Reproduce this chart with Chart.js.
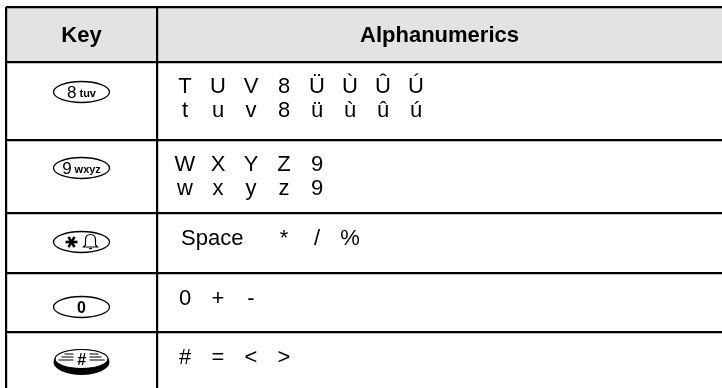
<!DOCTYPE html>
<html>
<head>
<meta charset="utf-8">
<script src="https://cdn.jsdelivr.net/npm/chart.js@4/dist/chart.umd.min.js"></script>
<style>
  html, body { margin: 0; padding: 0; background: #fff; }
  canvas { display: block; }
</style>
</head>
<body>
<canvas id="tbl" width="722" height="388"></canvas>
<script>
  /* ─── Table content ─── */
  const headers = ["Key", "Alphanumerics"];
  const keyDigits = ["8", "9", "*", "0", "#"];
  const keyLetters = ["tuv", "wxyz", "", "", ""];
  const row1Lines = ["T U V 8 Ü Ù Û Ú", "t u v 8 ü ù û ú"];
  const row2Lines = ["W X Y Z 9", "w x y z 9"];
  const row3Lines = ["Space * / %"];
  const row4Lines = ["0 + -"];
  const row5Lines = ["# = < >"];
  const cellLines = [row1Lines, row2Lines, row3Lines, row4Lines, row5Lines];

  /* ─── Layout (px, relative to the table's top-left corner) ─── */
  const TABLE_LEFT = 6;
  const TABLE_TOP = 7;
  const W = 722, H = 388;
  const rowEdges = [0, 55, 133, 206, 266, 325];
  const colEdges = [0, 151];
  const keyDy = [30, 28, 29, 34, 30];   // key centre below row top
  const SLOT = 16.5;         // half pitch between glyphs
  const TEXT_X0 = 28;        // first glyph centre, from divider
  const LINE_H = 24;
  const FONT = "'Liberation Sans', Arial, Helvetica, sans-serif";

  /* ─── Key glyphs ─── */
  const drawOval = (c, cx, cy, rx, ry) => {
    c.beginPath();
    c.ellipse(cx, cy, rx, ry, 0, 0, Math.PI * 2);
    c.lineWidth = 1.3;
    c.strokeStyle = "#000";
    c.stroke();
  };

  const drawKey = (c, i, cx, cy) => {
    const d = keyDigits[i], l = keyLetters[i];
    c.fillStyle = "#000";
    c.textBaseline = "alphabetic";
    if (d === "#") {
      // shaded hash key
      c.beginPath();
      c.ellipse(cx, cy, 28, 13, 0, 0, Math.PI * 2);
      c.fill();
      c.beginPath();
      c.ellipse(cx, cy - 3, 26.5, 9.5, 0, 0, Math.PI * 2);
      c.fillStyle = "#fff";
      c.fill();
      c.lineWidth = 1.2;
      c.strokeStyle = "#000";
      c.stroke();
      c.lineWidth = 1.1;
      [-6, -3, 0].forEach((dy) => {
        c.beginPath();
        c.moveTo(cx - 23 + Math.abs(dy), cy + dy - 2);
        c.lineTo(cx - 8, cy + dy - 2);
        c.moveTo(cx + 8, cy + dy - 2);
        c.lineTo(cx + 23 - Math.abs(dy), cy + dy - 2);
        c.stroke();
      });
      c.fillStyle = "#000";
      c.font = `italic bold 16px ${FONT}`;
      c.textAlign = "center";
      c.fillText("#", cx, cy + 3);
      return;
    }
    drawOval(c, cx, cy, 28, 10.5);
    if (d === "*") {
      // heavy asterisk
      const ax = cx - 10, ay = cy;
      c.lineWidth = 2.6;
      c.lineCap = "butt";
      [0, 60, 120].forEach((deg) => {
        const a = deg * Math.PI / 180;
        c.beginPath();
        c.moveTo(ax - 6 * Math.cos(a), ay - 6 * Math.sin(a));
        c.lineTo(ax + 6 * Math.cos(a), ay + 6 * Math.sin(a));
        c.stroke();
      });
      // bell outline
      const bx = cx + 9, by = cy;
      c.lineWidth = 1.2;
      c.beginPath();
      c.moveTo(bx - 7, by + 5);
      c.lineTo(bx - 5, by + 3);
      c.lineTo(bx - 5, by - 2);
      c.quadraticCurveTo(bx - 5, by - 7.5, bx, by - 7.5);
      c.quadraticCurveTo(bx + 5, by - 7.5, bx + 5, by - 2);
      c.lineTo(bx + 5, by + 3);
      c.lineTo(bx + 7, by + 5);
      c.closePath();
      c.stroke();
      c.beginPath();
      c.moveTo(bx - 1.5, by + 6.5);
      c.lineTo(bx + 1.5, by + 6.5);
      c.stroke();
      return;
    }
    if (l) {
      c.font = `17px ${FONT}`;
      const dw = c.measureText(d).width;
      c.font = `bold 11px ${FONT}`;
      const lw = c.measureText(l).width;
      const gap = 3;
      const x0 = cx - (dw + gap + lw) / 2;
      c.textAlign = "left";
      c.font = `17px ${FONT}`;
      c.fillText(d, x0, cy + 6);
      c.font = `bold 11px ${FONT}`;
      c.fillText(l, x0 + dw + gap, cy + 5);
    } else {
      c.font = `bold 16px ${FONT}`;
      c.textAlign = "center";
      c.fillText(d, cx, cy + 6);
    }
  };

  /* ─── Spread a line over fixed glyph slots ─── */
  const drawSpread = (c, text, x0, y) => {
    let i = 0;
    while (i < text.length) {
      if (text[i] === " ") { i++; continue; }
      let j = i;
      while (j < text.length && text[j] !== " ") j++;
      const word = text.slice(i, j);
      const cxSlot = x0 + i * SLOT;
      if (word.length === 1) {
        c.textAlign = "center";
        c.fillText(word, cxSlot, y);
      } else {
        c.textAlign = "left";
        c.fillText(word, cxSlot - 4, y);
      }
      i = j;
    }
  };

  /* ─── Table plugin ─── */
  const tablePlugin = {
    id: "tableCells",
    beforeDraw(chart) {
      const c = chart.ctx, xs = chart.scales.x, ys = chart.scales.y;
      c.save();
      c.fillStyle = "#e3e3e3";
      const x1 = xs.getPixelForValue(colEdges[0]);
      const y1 = ys.getPixelForValue(rowEdges[0]);
      const y2 = ys.getPixelForValue(rowEdges[1]);
      c.fillRect(x1, y1, chart.width - x1, y2 - y1);
      c.restore();
    },
    afterDraw(chart) {
      const c = chart.ctx, xs = chart.scales.x, ys = chart.scales.y;
      const keyCx = (xs.getPixelForValue(colEdges[0]) + xs.getPixelForValue(colEdges[1])) / 2;
      const txtCx = (xs.getPixelForValue(colEdges[1]) + chart.width) / 2;
      c.save();
      // header
      c.fillStyle = "#000";
      c.font = `bold 22px ${FONT}`;
      c.textAlign = "center";
      c.textBaseline = "middle";
      const hy = (ys.getPixelForValue(rowEdges[0]) + ys.getPixelForValue(rowEdges[1])) / 2 + 1;
      c.fillText(headers[0], keyCx, hy);
      c.fillText(headers[1], txtCx, hy);

      // body rows
      const x0 = xs.getPixelForValue(colEdges[1]) + TEXT_X0;
      cellLines.forEach((lines, r) => {
        const top = ys.getPixelForValue(rowEdges[r + 1]);
        drawKey(c, r, keyCx, top + keyDy[r]);
        c.fillStyle = "#000";
        c.font = `22px ${FONT}`;
        c.textBaseline = "alphabetic";
        lines.forEach((ln, k) => {
          const base = top + (lines.length > 1 ? 31 : 32) + k * LINE_H;
          drawSpread(c, ln, x0, base);
        });
      });
      c.restore();
    },
  };

  const edgeTicks = (edges) => (scale) => {
    scale.ticks = edges.map((v) => ({ value: v }));
  };

  const gridOpts = { color: "#000", lineWidth: 2.2, drawTicks: false };

  new Chart(document.getElementById("tbl").getContext("2d"), {
    type: "scatter",
    data: { datasets: [] },
    options: {
      responsive: false,
      animation: false,
      events: [],
      layout: { padding: { left: TABLE_LEFT, top: TABLE_TOP, right: 0, bottom: 0 } },
      plugins: { legend: { display: false }, tooltip: { enabled: false } },
      scales: {
        x: {
          type: "linear", min: 0, max: W - TABLE_LEFT,
          afterBuildTicks: edgeTicks(colEdges),
          ticks: { display: false }, border: { display: false }, grid: gridOpts,
        },
        y: {
          type: "linear", reverse: true, min: 0, max: H - TABLE_TOP,
          afterBuildTicks: edgeTicks(rowEdges),
          ticks: { display: false }, border: { display: false }, grid: gridOpts,
        },
      },
    },
    plugins: [tablePlugin],
  });
</script>
</body>
</html>
